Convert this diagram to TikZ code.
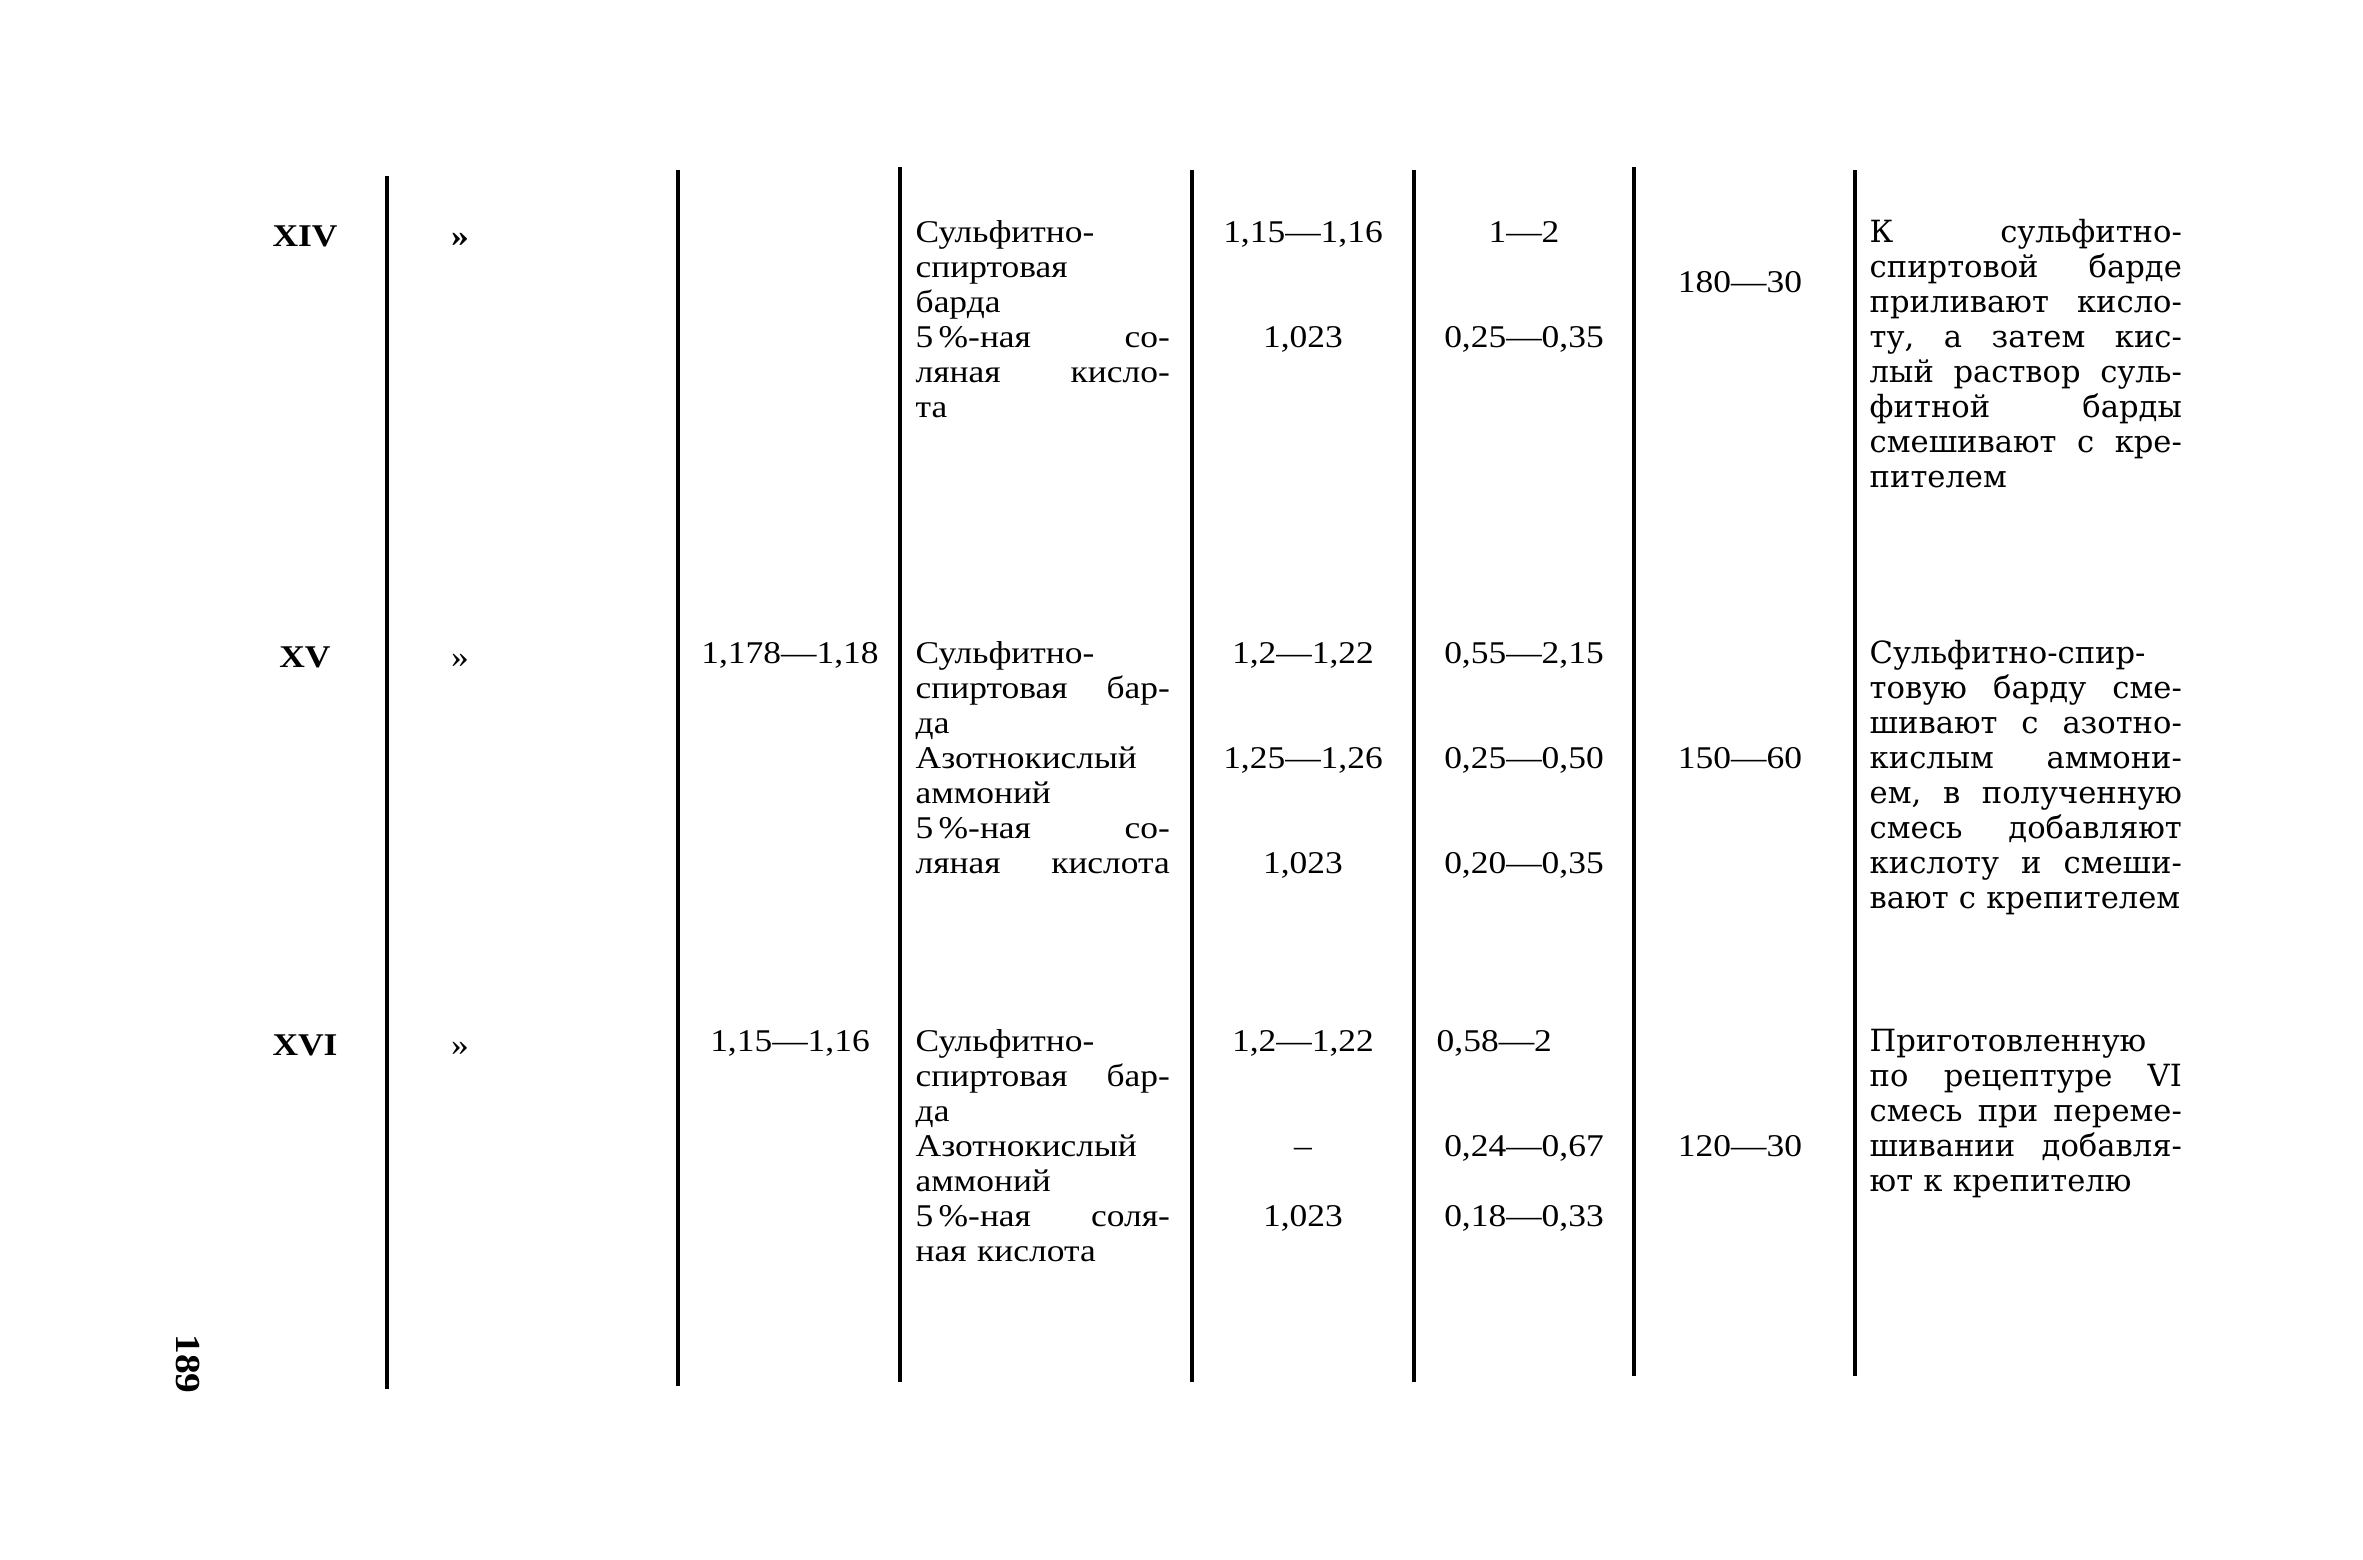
\documentclass[tikz,border=0pt]{standalone}
\usepackage{fontspec}
\setmainfont{Liberation Serif}[FakeStretch=1.12]
\newfontfamily\notefamily{DejaVu Serif}
\usepackage{tikz}
\newcommand{\tabfnt}{\fontsize{9}{9.96}\selectfont}
\newcommand{\notefnt}{\notefamily\fontsize{8.7}{9.96}\selectfont}
\newcommand{\ingrline}[1]{\leavevmode\hbox to 2.54cm{#1}}
\newcommand{\noteline}[1]{\leavevmode\hbox to 3.12cm{#1}}

\begin{document}
\begin{tikzpicture}[x=0.01cm,y=-0.01cm,
    rule/.style={line width=0.9pt},
    roman/.style={font=\tabfnt\bfseries,anchor=base,inner sep=0pt},
    val/.style={font=\tabfnt,anchor=base,inner sep=0pt},
    ingr/.style={font=\tabfnt,anchor=base west,text width=2.54cm,align=left,inner sep=0pt},
    note/.style={font=\notefnt,anchor=base west,text width=3.12cm,align=left,inner sep=0pt}]
  \useasboundingbox (0,0) rectangle (2363,1559);

  \foreach \x/\t/\b in {387/176/1389,678/170/1386,900/167/1382,1192/170/1382,
                        1414/170/1382,1634/167/1376,1855/170/1376}
    \draw [rule] (\x,\t) -- (\x,\b);

  \node [roman] (no_14)    at (305,246) {XIV};
  \node [roman] (ditto_14) at (460,246) {»};
  \node [ingr]  (ingr_14)  at (915,242) {Сульфитно-\\спиртовая\\барда\\
    \ingrline{5\,\%-ная \hfill со-}\\\ingrline{ляная \hfill кисло-}\\та};
  \node [val] (dens_14a) at (1303,242) {1,15—1,16};
  \node [val] (dens_14b) at (1303,347) {1,023};
  \node [val] (vol_14a)  at (1524,242) {1—2};
  \node [val] (vol_14b)  at (1524,347) {0,25—0,35};
  \node [val] (time_14)  at (1740,292) {180—30};
  \node [note] (note_14) at (1869,242) {\noteline{К \hfill сульфитно-}\\
    \noteline{спиртовой \hfill барде}\\\noteline{приливают \hfill кисло-}\\
    \noteline{ту, \hfill а \hfill затем \hfill кис-}\\
    \noteline{лый \hfill раствор \hfill суль-}\\
    \noteline{фитной \hfill барды}\\\noteline{смешивают \hfill с \hfill кре-}\\
    пителем};

  \node [roman] (no_15)    at (305,667) {XV};
  \node [val]   (ditto_15) at (460,667) {»};
  \node [val]   (mix_15)   at (790,663) {1,178—1,18};
  \node [ingr]  (ingr_15)  at (915,663) {Сульфитно-\\\ingrline{спиртовая \hfill бар-}\\да\\
    Азотнокислый\\аммоний\\\ingrline{5\,\%-ная \hfill со-}\\
    \ingrline{ляная \hfill кислота}};
  \node [val] (dens_15a) at (1303,663) {1,2—1,22};
  \node [val] (dens_15b) at (1303,768) {1,25—1,26};
  \node [val] (dens_15c) at (1303,873) {1,023};
  \node [val] (vol_15a)  at (1524,663) {0,55—2,15};
  \node [val] (vol_15b)  at (1524,768) {0,25—0,50};
  \node [val] (vol_15c)  at (1524,873) {0,20—0,35};
  \node [val] (time_15)  at (1740,768) {150—60};
  \node [note] (note_15) at (1869,663) {Сульфитно-спир-\\
    \noteline{товую \hfill барду \hfill сме-}\\\noteline{шивают \hfill с \hfill азотно-}\\
    \noteline{кислым \hfill аммони-}\\\noteline{ем, \hfill в \hfill полученную}\\
    \noteline{смесь \hfill добавляют}\\\noteline{кислоту \hfill и \hfill смеши-}\\
    вают с крепителем};

  \node [roman] (no_16)    at (305,1055) {XVI};
  \node [val]   (ditto_16) at (460,1055) {»};
  \node [val]   (mix_16)   at (790,1051) {1,15—1,16};
  \node [ingr]  (ingr_16)  at (915,1051) {Сульфитно-\\\ingrline{спиртовая \hfill бар-}\\да\\
    Азотнокислый\\аммоний\\\ingrline{5\,\%-ная \hfill соля-}\\ная кислота};
  \node [val] (dens_16a) at (1303,1051) {1,2—1,22};
  \node [val] (dens_16b) at (1303,1156) {–};
  \node [val] (dens_16c) at (1303,1226) {1,023};
  \node [val,anchor=base west] (vol_16a) at (1436,1051) {0,58—2};
  \node [val] (vol_16b)  at (1524,1156) {0,24—0,67};
  \node [val] (vol_16c)  at (1524,1226) {0,18—0,33};
  \node [val] (time_16)  at (1740,1156) {120—30};
  \node [note] (note_16) at (1869,1051) {Приготовленную\\
    \noteline{по \hfill рецептуре \hfill VI}\\\noteline{смесь \hfill при \hfill переме-}\\
    \noteline{шивании \hfill добавля-}\\ют к крепителю};

  \node [roman,font=\fontsize{10}{12}\selectfont\bfseries,rotate=-90,anchor=center]
    (page) at (188,1364) {189};
\end{tikzpicture}
\end{document}
